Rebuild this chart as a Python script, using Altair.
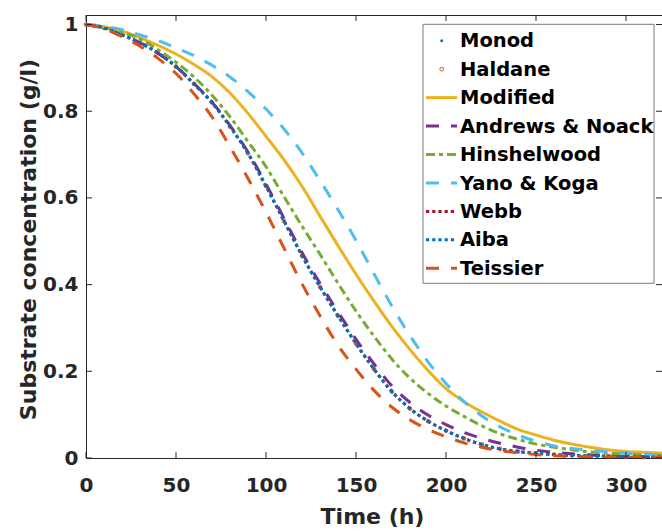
import altair as alt
import pandas as pd

# ---------------- data ----------------
time_h = [0, 10, 20, 30, 40, 50, 60, 70, 80, 90, 100, 110, 120, 130, 140, 150, 160,
          170, 180, 190, 200, 210, 220, 230, 240, 250, 260, 270, 280, 290, 300, 310, 320]

monod = [1.000, 0.992, 0.976, 0.958, 0.934, 0.903, 0.863, 0.820, 0.765, 0.703, 0.627,
         0.547, 0.467, 0.395, 0.328, 0.264, 0.205, 0.153, 0.114, 0.085, 0.063, 0.045,
         0.031, 0.021, 0.015, 0.011, 0.008, 0.006, 0.005, 0.004, 0.003, 0.002, 0.002]
haldane = [1.000, 0.992, 0.976, 0.958, 0.934, 0.903, 0.863, 0.820, 0.765, 0.703, 0.627,
           0.547, 0.467, 0.395, 0.328, 0.264, 0.205, 0.153, 0.114, 0.085, 0.063, 0.045,
           0.031, 0.021, 0.015, 0.011, 0.008, 0.006, 0.005, 0.004, 0.003, 0.002, 0.002]
modified = [1.000, 0.995, 0.985, 0.970, 0.952, 0.932, 0.908, 0.880, 0.842, 0.795, 0.742,
            0.688, 0.627, 0.558, 0.490, 0.424, 0.362, 0.303, 0.250, 0.202, 0.160, 0.130,
            0.106, 0.085, 0.066, 0.053, 0.041, 0.032, 0.025, 0.019, 0.015, 0.013, 0.011]
andrews = [1.000, 0.992, 0.976, 0.958, 0.934, 0.903, 0.864, 0.821, 0.767, 0.706, 0.632,
           0.553, 0.474, 0.403, 0.337, 0.274, 0.217, 0.166, 0.128, 0.099, 0.077, 0.059,
           0.045, 0.034, 0.025, 0.018, 0.013, 0.010, 0.007, 0.005, 0.004, 0.003, 0.002]
hinshelwood = [1.000, 0.993, 0.982, 0.967, 0.942, 0.913, 0.879, 0.837, 0.787, 0.730, 0.672,
               0.603, 0.535, 0.470, 0.403, 0.339, 0.281, 0.228, 0.184, 0.149, 0.120, 0.096,
               0.074, 0.056, 0.043, 0.032, 0.025, 0.019, 0.014, 0.011, 0.009, 0.007, 0.006]
yano = [1.000, 0.996, 0.988, 0.976, 0.963, 0.946, 0.928, 0.906, 0.879, 0.845, 0.805,
        0.759, 0.704, 0.640, 0.573, 0.502, 0.425, 0.350, 0.282, 0.222, 0.172, 0.130,
        0.097, 0.072, 0.053, 0.039, 0.028, 0.022, 0.018, 0.014, 0.011, 0.009, 0.007]
webb = [1.000, 0.992, 0.976, 0.958, 0.934, 0.903, 0.863, 0.820, 0.765, 0.703, 0.627,
        0.547, 0.467, 0.395, 0.328, 0.264, 0.205, 0.153, 0.114, 0.085, 0.063, 0.045,
        0.031, 0.021, 0.015, 0.011, 0.008, 0.006, 0.005, 0.004, 0.003, 0.002, 0.002]
aiba = [1.000, 0.992, 0.976, 0.958, 0.934, 0.903, 0.863, 0.820, 0.765, 0.703, 0.627,
        0.547, 0.467, 0.395, 0.328, 0.264, 0.205, 0.153, 0.114, 0.085, 0.063, 0.045,
        0.031, 0.021, 0.015, 0.011, 0.008, 0.006, 0.005, 0.004, 0.003, 0.002, 0.002]
teissier = [1.000, 0.990, 0.972, 0.950, 0.922, 0.887, 0.840, 0.787, 0.718, 0.645, 0.567,
            0.484, 0.402, 0.328, 0.260, 0.205, 0.156, 0.117, 0.088, 0.066, 0.049, 0.035,
            0.025, 0.017, 0.012, 0.008, 0.005, 0.004, 0.003, 0.002, 0.002, 0.001, 0.001]

series_names = ["Monod", "Haldane", "Modified", "Andrews & Noack", "Hinshelwood",
                "Yano & Koga", "Webb", "Aiba", "Teissier"]
series_values = [monod, haldane, modified, andrews, hinshelwood, yano, webb, aiba, teissier]

x_ticks = [0, 50, 100, 150, 200, 250, 300]
y_ticks = [0, 0.2, 0.4, 0.6, 0.8, 1]

# ---------------- styling ----------------
W, H = 576, 443
XMAX, YMAX = 320, 1.022
FONT = "DejaVu Sans"
AX = "#262626"

styles = {
    "Monod": dict(kind="dot", color="#0072BD"),
    "Haldane": dict(kind="circle", color="#D95319"),
    "Modified": dict(kind="line", color="#EDB120", dash=None),
    "Andrews & Noack": dict(kind="line", color="#7E2F8E", dash=[13, 12]),
    "Hinshelwood": dict(kind="line", color="#77AC30", dash=[9, 4, 4, 4]),
    "Yano & Koga": dict(kind="line", color="#4DBEEE", dash=[13, 12]),
    "Webb": dict(kind="line", color="#A2142F", dash=[3.2, 3]),
    "Aiba": dict(kind="line", color="#0072BD", dash=[3.2, 3]),
    "Teissier": dict(kind="line", color="#D95319", dash=[13, 12]),
}

rows = []
for name, vals in zip(series_names, series_values):
    for t, v in zip(time_h, vals):
        rows.append({"series": name, "t": t, "v": v})
df = pd.DataFrame(rows)

xs = alt.Scale(domain=[0, XMAX], nice=False, zero=False)
ys = alt.Scale(domain=[0, YMAX], nice=False, zero=False)

xaxis = alt.Axis(values=x_ticks, title="Time (h)", grid=False, ticks=False, tickSize=0,
                 labelFont=FONT, labelFontSize=20, labelFontWeight="bold", labelColor=AX,
                 labelPadding=17, labelFlush=False, labelOverlap=False,
                 titleFont=FONT, titleFontSize=22, titleFontWeight="bold", titleColor=AX,
                 titleBaseline="alphabetic", titleX=286, titleY=65,
                 domainColor=AX, domainWidth=1)
yaxis = alt.Axis(values=y_ticks, format="~g", title="Substrate concentration (g/l)",
                 grid=False, ticks=False, tickSize=0,
                 labelFont=FONT, labelFontSize=20, labelFontWeight="bold", labelColor=AX,
                 labelPadding=8, labelOverlap=False,
                 titleFont=FONT, titleFontSize=22, titleFontWeight="bold", titleColor=AX,
                 titleBaseline="alphabetic", titleX=-51, titleY=224, titleAngle=-90,
                 domainColor=AX, domainWidth=1)

X = alt.X("t:Q", scale=xs, axis=xaxis)
Y = alt.Y("v:Q", scale=ys, axis=yaxis)

layers = []
for name in series_names:
    st = styles[name]
    sub = df[df["series"] == name]
    base = alt.Chart(sub)
    if st["kind"] == "dot":
        layers.append(base.mark_point(filled=True, size=7, color=st["color"], opacity=1)
                      .encode(x=X, y=Y))
    elif st["kind"] == "circle":
        layers.append(base.mark_point(filled=False, size=14, strokeWidth=1,
                                      color=st["color"], opacity=1).encode(x=X, y=Y))
    else:
        kw = dict(color=st["color"], strokeWidth=3, interpolate="monotone", clip=True)
        if st["dash"] is not None:
            kw["strokeDash"] = st["dash"]
        layers.append(base.mark_line(**kw).encode(x=X, y=Y))

# inward ticks (MATLAB style box)
xt = pd.DataFrame({"t": x_ticks})
yt = pd.DataFrame({"v": y_ticks})
layers.append(alt.Chart(xt).mark_rule(color=AX, strokeWidth=1)
              .encode(x=X, y=alt.value(H), y2=alt.value(H - 6)))
layers.append(alt.Chart(xt).mark_rule(color=AX, strokeWidth=1)
              .encode(x=X, y=alt.value(0), y2=alt.value(6)))
layers.append(alt.Chart(yt).mark_rule(color=AX, strokeWidth=1)
              .encode(y=Y, x=alt.value(0), x2=alt.value(6)))
layers.append(alt.Chart(yt).mark_rule(color=AX, strokeWidth=1)
              .encode(y=Y, x=alt.value(W - 6), x2=alt.value(W)))

# legend
one = pd.DataFrame({"a": [0]})
layers.append(alt.Chart(one).mark_rect(fill="white", stroke="#7a7a7a", strokeWidth=1)
              .encode(x=alt.value(337), x2=alt.value(568), y=alt.value(9.3), y2=alt.value(268.3)))
SP = 28.45
for i, name in enumerate(series_names):
    st = styles[name]
    yc = 25.7 + i * SP
    if st["kind"] == "dot":
        layers.append(alt.Chart(one).mark_point(filled=True, size=9, color=st["color"], opacity=1)
                      .encode(x=alt.value(355.7), y=alt.value(yc)))
    elif st["kind"] == "circle":
        layers.append(alt.Chart(one).mark_point(filled=False, size=14, strokeWidth=1,
                                                color=st["color"], opacity=1)
                      .encode(x=alt.value(355.7), y=alt.value(yc)))
    else:
        kw = dict(color=st["color"], strokeWidth=3)
        if st["dash"] is not None:
            kw["strokeDash"] = st["dash"]
        layers.append(alt.Chart(one).mark_rule(**kw)
                      .encode(x=alt.value(340), x2=alt.value(371), y=alt.value(yc)))
    layers.append(alt.Chart(one).mark_text(align="left", baseline="alphabetic", font=FONT,
                                           fontSize=19.5, fontWeight="bold", color="black")
                  .encode(x=alt.value(374), y=alt.value(32.3 + i * SP), text=alt.value(name)))

chart = (alt.layer(*layers)
         .properties(width=W, height=H,
                     autosize=alt.AutoSizeParams(type="none"),
                     padding={"left": 86, "top": 15, "right": 0, "bottom": 73},
                     background="white")
         .configure_view(stroke=AX, strokeWidth=1))

chart.save("out.html", embed_options={"renderer": "svg", "actions": False})
